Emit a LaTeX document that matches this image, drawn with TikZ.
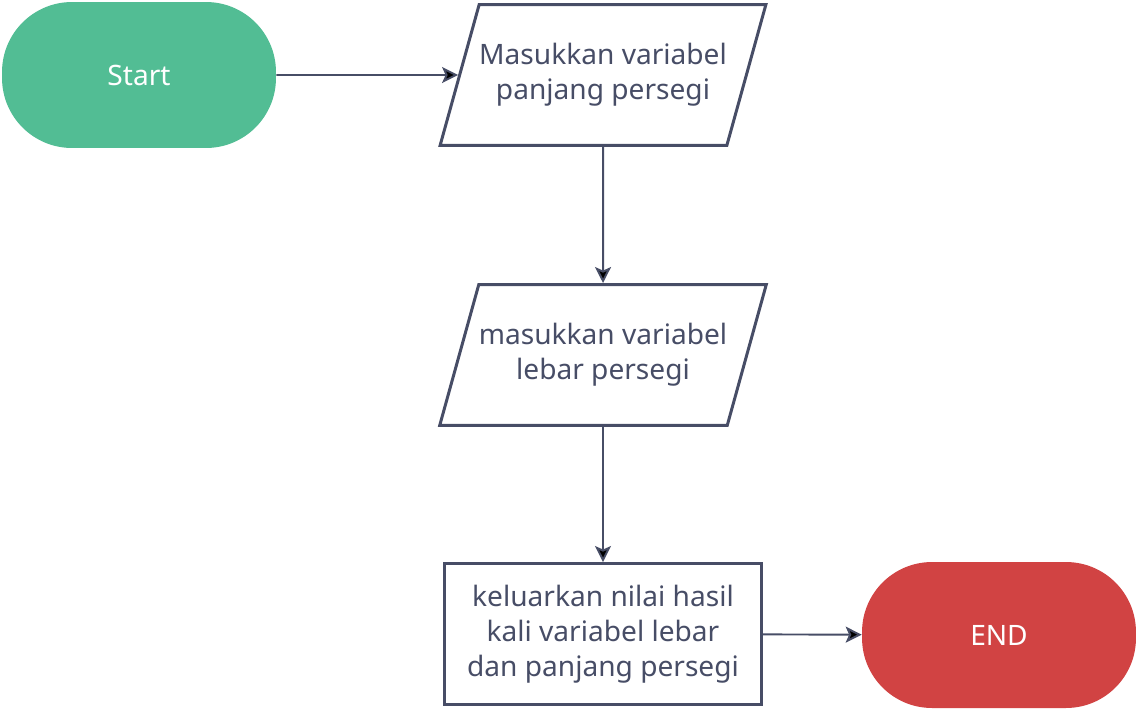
\documentclass[tikz,border=0pt]{standalone}
\usepackage{fontspec}
\setmainfont{Noto Sans}
\usetikzlibrary{shapes.geometric,arrows.meta}
\definecolor{ink}{HTML}{474D66}
\definecolor{startgreen}{HTML}{52BD94}
\definecolor{endred}{HTML}{D14343}

\begin{document}
\begin{tikzpicture}[x=0.02cm,y=-0.02cm,>={Stealth[length=0.32cm,width=0.32cm,inset=0.07cm]},
  every node/.style={font=\fontsize{16}{19.8}\selectfont,align=center,text=ink},
  term node/.style={rectangle,rounded corners=1.4cm,minimum width=5.48cm,
    minimum height=2.92cm,text=white},
  io node/.style={trapezium,trapezium left angle=74.5,trapezium right angle=105.5,
    trapezium stretches body=true,draw=ink,line width=1.7pt,minimum width=6.22cm,
    inner xsep=0pt,inner ysep=0.78cm},
  proc node/.style={rectangle,draw=ink,line width=1.7pt,minimum width=6.34cm,
    minimum height=2.82cm}]
  \useasboundingbox (0,0) rectangle (1136,708);
  \node[term node,fill=startgreen] (start) at (139,75)  {Start};
  \node[io node]                   (in1)   at (603,75)  {Masukkan variabel\\panjang persegi};
  \node[io node]                   (in2)   at (603,355) {masukkan variabel\\lebar persegi};
  \node[proc node]                 (out)   at (603,634) {keluarkan nilai hasil\\kali variabel lebar\\dan panjang persegi};
  \node[term node,fill=endred]     (end)   at (999,635) {END};
  \path[draw=ink,line width=1.1pt]
    (start) edge [->] (in1)
    (in1)   edge [->] (in2)
    (in2)   edge [->] (out)
    (out)   edge [->] (end);
\end{tikzpicture}
\end{document}
